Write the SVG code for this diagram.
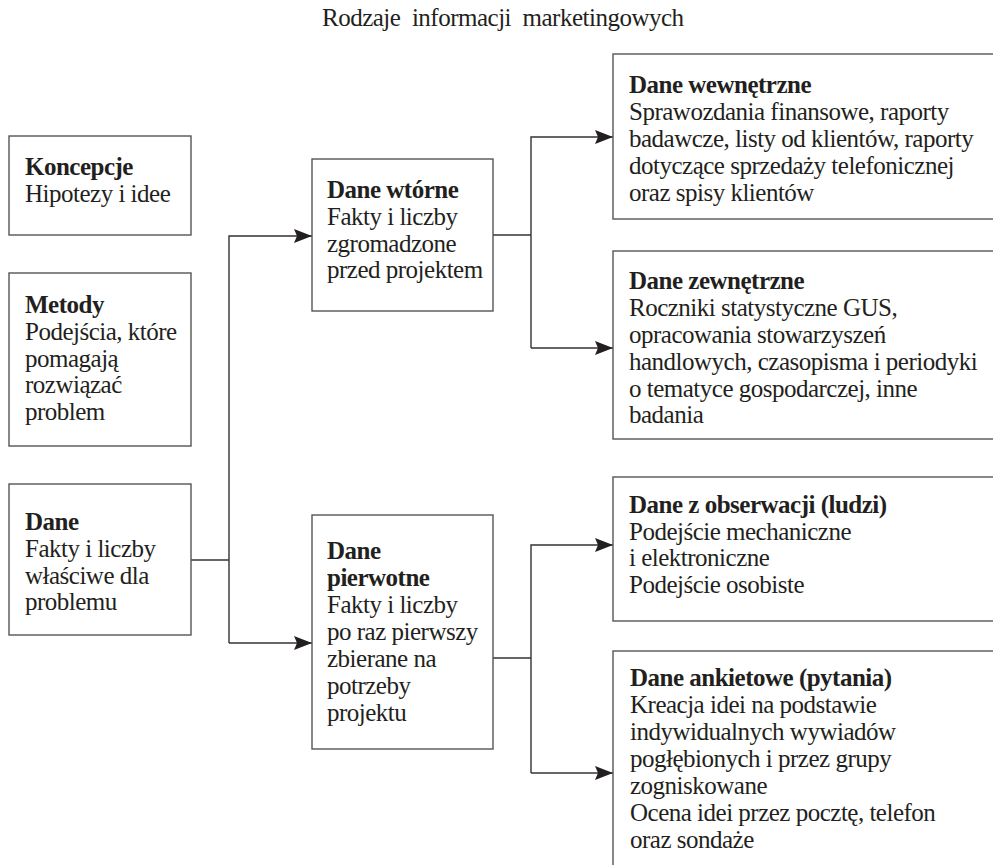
<svg xmlns="http://www.w3.org/2000/svg" width="993" height="865" viewBox="0 0 993 865">
<style>
text{font-family:"Liberation Serif","Times New Roman",serif;font-size:25px;letter-spacing:-0.5px;fill:#231f20}
.b{font-weight:bold}
.box{fill:#fff;stroke:#555;stroke-width:1.4}
.ln{fill:none;stroke:#333;stroke-width:1.4}
</style>
<defs>
<marker id="ar" viewBox="0 0 18 15" refX="18" refY="7.5" markerWidth="18" markerHeight="15" markerUnits="userSpaceOnUse" orient="auto">
<path d="M0,0.5 L18,7.5 L0,14.5 L3,7.5 Z" fill="#231f20"/>
</marker>
</defs>
<rect width="993" height="865" fill="#fff"/>
<text id="title" x="322" y="26" style="white-space:pre">Rodzaje  informacji  marketingowych</text>

<g id="connectors">
<path class="ln" d="M191,560 H229"/>
<path class="ln" d="M229,643 V236 H312" marker-end="url(#ar)"/>
<path class="ln" d="M229,643 H312" marker-end="url(#ar)"/>
<path class="ln" d="M493,235 H531"/>
<path class="ln" d="M531,348 V137 H613" marker-end="url(#ar)"/>
<path class="ln" d="M531,348 H613" marker-end="url(#ar)"/>
<path class="ln" d="M493,658 H531"/>
<path class="ln" d="M531,773 V545 H613" marker-end="url(#ar)"/>
<path class="ln" d="M531,773 H613" marker-end="url(#ar)"/>
</g>

<g id="koncepcje">
<rect class="box" x="9" y="136" width="182" height="99"/>
<text x="25" y="175" class="b">Koncepcje</text>
<text x="25" y="202">Hipotezy i idee</text>
</g>

<g id="metody">
<rect class="box" x="9" y="273" width="182" height="173"/>
<text x="25" y="313" class="b">Metody</text>
<text x="25" y="340">Podejścia, które</text>
<text x="25" y="367">pomagają</text>
<text x="25" y="393">rozwiązać</text>
<text x="25" y="420">problem</text>
</g>

<g id="dane">
<rect class="box" x="9" y="484" width="182" height="151"/>
<text x="25" y="530" class="b">Dane</text>
<text x="25" y="557">Fakty i liczby</text>
<text x="25" y="584">właściwe dla</text>
<text x="25" y="610">problemu</text>
</g>

<g id="dane-wtorne">
<rect class="box" x="312" y="159" width="181" height="152"/>
<text x="327" y="198" class="b">Dane wtórne</text>
<text x="327" y="225">Fakty i liczby</text>
<text x="327" y="252">zgromadzone</text>
<text x="327" y="278">przed projektem</text>
</g>

<g id="dane-pierwotne">
<rect class="box" x="312" y="515" width="181" height="234"/>
<text x="327" y="559" class="b">Dane</text>
<text x="327" y="586" class="b">pierwotne</text>
<text x="327" y="613">Fakty i liczby</text>
<text x="327" y="640">po raz pierwszy</text>
<text x="327" y="667">zbierane na</text>
<text x="327" y="694">potrzeby</text>
<text x="327" y="721">projektu</text>
</g>

<g id="dane-wewnetrzne">
<rect class="box" x="613" y="54" width="400" height="165"/>
<text x="629" y="93" class="b">Dane wewnętrzne</text>
<text x="629" y="120">Sprawozdania finansowe, raporty</text>
<text x="629" y="147">badawcze, listy od klientów, raporty</text>
<text x="629" y="174">dotyczące sprzedaży telefonicznej</text>
<text x="629" y="201">oraz spisy klientów</text>
</g>

<g id="dane-zewnetrzne">
<rect class="box" x="613" y="251" width="400" height="188"/>
<text x="629" y="289" class="b">Dane zewnętrzne</text>
<text x="629" y="316">Roczniki statystyczne GUS,</text>
<text x="629" y="343">opracowania stowarzyszeń</text>
<text x="629" y="370">handlowych, czasopisma i periodyki</text>
<text x="629" y="397">o tematyce gospodarczej, inne</text>
<text x="629" y="423">badania</text>
</g>

<g id="dane-obserwacji">
<rect class="box" x="613" y="477" width="400" height="144"/>
<text x="629" y="513" class="b">Dane z obserwacji (ludzi)</text>
<text x="629" y="540">Podejście mechaniczne</text>
<text x="629" y="566">i elektroniczne</text>
<text x="629" y="593">Podejście osobiste</text>
</g>

<g id="dane-ankietowe">
<rect class="box" x="613" y="651" width="400" height="240"/>
<text x="630" y="686" class="b">Dane ankietowe (pytania)</text>
<text x="630" y="713">Kreacja idei na podstawie</text>
<text x="630" y="740">indywidualnych wywiadów</text>
<text x="630" y="767">pogłębionych i przez grupy</text>
<text x="630" y="794">zogniskowane</text>
<text x="630" y="821">Ocena idei przez pocztę, telefon</text>
<text x="630" y="848">oraz sondaże</text>
</g>
</svg>
